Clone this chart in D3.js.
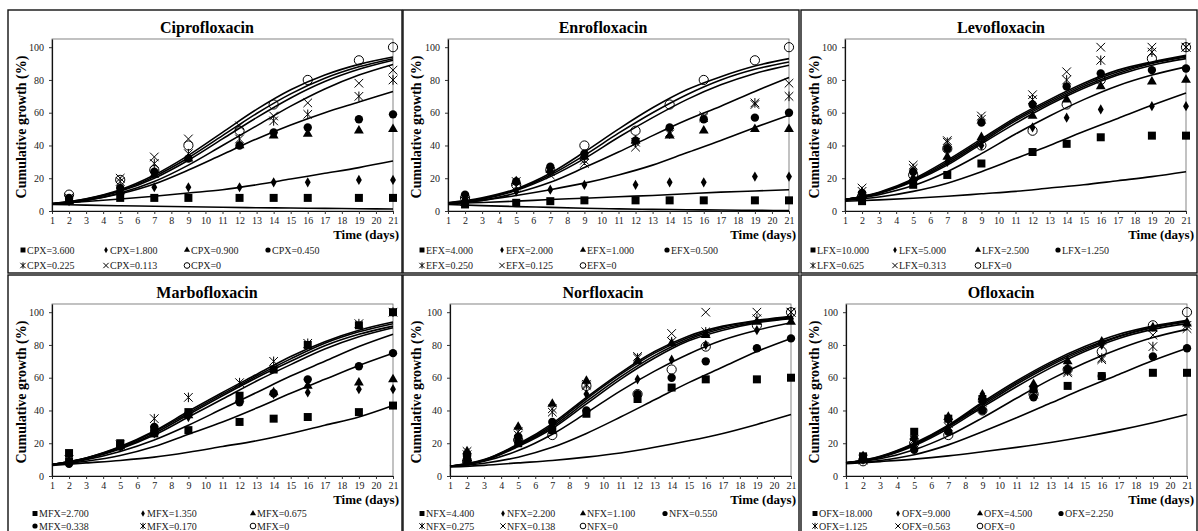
<!DOCTYPE html>
<html>
<head>
<meta charset="utf-8">
<script src="https://cdn.jsdelivr.net/npm/d3@7"></script>
<style>
    body { margin: 0; background: #fff; }
    svg text { font-family: "Liberation Serif", "Times New Roman", serif; }
</style>
</head>
<body>
<div id="main"></div>
<script>
// sampling days of the measured points and of the fitted curves
const days = [2, 5, 7, 9, 12, 14, 16, 19, 21];
const fitDays = [1, 3, 5, 7, 9, 11, 13, 15, 17, 19, 21];
const dayTicks = [1, 2, 3, 4, 5, 6, 7, 8, 9, 10, 11, 12, 13, 14, 15, 16, 17, 18, 19, 20, 21];
const yTicks = [0, 20, 40, 60, 80, 100];

const markerShapes = ["square", "diamond", "triangle", "circle", "asterisk", "cross", "ring"];

// Ciprofloxacin
const cpxConc = ["3.600", "1.800", "0.900", "0.450", "0.225", "0.113", "0"];
const cpxPoints = [
    [6.5, 8, 8, 8, 8, 8, 8, 8, 8],
    [6, 11, 14.5, 14.5, 14.5, 17.5, 17.5, 19, 19],
    [6, 12, 22, 32, 40, 46, 47, 49, 50],
    [8, 14, 24, 32, 40, 48, 51, 56, 59],
    [7, 18, 29, 35, 44, 55, 59, 70, 80],
    [8, 20, 33, 44, 52, 58, 66, 78, 86],
    [10, 19, 25, 40, 49, 65, 80, 92, 100]
];
const cpxFits = [
    [4.5, 7.5, 13, 22, 34, 48, 62, 74, 83, 89.5, 94],
    [4.5, 7.3, 12.5, 21, 32.5, 46, 59.5, 71.5, 81, 88, 93],
    [4.3, 7, 12, 20, 31, 44, 57, 69, 79, 86.5, 92],
    [4.2, 6.5, 11, 18, 28, 40, 52, 64, 74.5, 83, 89.5],
    [4.2, 6.5, 10.5, 16.5, 25, 34.5, 44, 52.5, 60, 66.5, 73],
    [4.5, 5.8, 7.3, 9, 11, 13, 16, 19.5, 23, 26.5, 30.5],
    [4, 3.6, 3.2, 2.9, 2.6, 2.3, 2, 1.8, 1.6, 1.4, 1.2]
];

// Enrofloxacin
const efxConc = ["4.000", "2.000", "1.000", "0.500", "0.250", "0.125", "0"];
const efxPoints = [
    [4, 5, 6, 6.5, 6.5, 6.5, 6.5, 6.5, 6.5],
    [7, 12, 13, 16, 16, 17.5, 17.5, 21, 21],
    [7, 18, 25, 33, 43, 46, 49, 50, 50],
    [10, 18, 27, 35, 43, 51, 56, 57, 60],
    [6, 18, 24, 31, 42, 47, 57, 66, 70],
    [6, 15, 22, 29, 39, 48, 58, 65, 78],
    [8, 16, 25, 40, 49, 65, 80, 92, 100]
];
const efxFits = [
    [5, 8, 13.5, 23, 36, 50, 63, 74, 82, 88.5, 93],
    [5, 7.5, 13, 22, 34, 47.5, 60, 71, 80, 86.5, 91],
    [4.8, 7.2, 12.5, 21, 32, 45, 57, 68, 77, 84, 89],
    [4.5, 6.5, 11, 17.5, 26.5, 36, 46, 55.5, 64, 73, 81.5],
    [4.5, 6.5, 9.5, 13, 17, 22, 28, 35.5, 43, 51, 58.5],
    [4.5, 5.2, 6, 7, 7.8, 8.7, 9.5, 10.5, 11.5, 12.2, 13],
    [4, 3.3, 2.7, 2.2, 1.7, 1.3, 1, 0.8, 0.6, 0.4, 0.3]
];

// Levofloxacin
const lfxConc = ["10.000", "5.000", "2.500", "1.250", "0.625", "0.313", "0"];
const lfxPoints = [
    [6, 16, 22, 29, 36, 41, 45, 46, 46],
    [8, 18, 30, 40, 51, 57, 62, 64, 64],
    [10, 20, 33, 45, 58, 68, 76, 79, 80],
    [11, 24, 38, 54, 65, 76, 84, 86, 87],
    [12, 26, 42, 56, 68, 80, 92, 97, 100],
    [14, 28, 43, 58, 71, 85, 100, 100, 100],
    [9, 22, 38, 40, 49, 65, 80, 93, 100]
];
const lfxFits = [
    [7, 11.5, 19.5, 31, 44, 57, 68, 78, 86, 91, 95],
    [7, 11.2, 19, 30, 43, 56, 67, 77, 85, 90.5, 94.5],
    [7, 11, 18.5, 29, 42, 55, 66, 76, 84, 90, 94],
    [7, 10.8, 18, 28, 41, 53.5, 65, 75, 83, 89, 93],
    [6.8, 10, 15.5, 24, 35, 47, 58, 68, 76.5, 83, 88],
    [6.5, 8.5, 12, 17, 24, 32, 40, 48.5, 56.5, 64.5, 72],
    [6, 6.8, 7.8, 9, 10.5, 12, 14, 16, 18.5, 21, 24]
];

// Marbofloxacin
const mfxConc = ["2.700", "1.350", "0.675", "0.338", "0.170", "0"];
const mfxPoints = [
    [9, 19, 26, 28, 33, 35, 36, 39, 43],
    [9, 18, 26, 36, 46, 50, 51, 53, 53],
    [9, 18, 27, 37, 47, 51, 55, 57, 59],
    [7.5, 18, 30, 38, 45, 50.5, 59, 67, 75],
    [10, 19, 35, 48, 57, 70, 81, 93, 100],
    [14, 20, 28, 39, 49, 65, 80, 92, 100]
];
const mfxFits = [
    [7, 11, 18, 27.5, 39.5, 51, 62, 73, 82, 89, 94],
    [7, 11, 17.5, 27, 38.5, 50, 61, 71.5, 81, 88, 93],
    [7, 10.8, 17, 26, 37.5, 49, 60, 70, 79.5, 86.5, 91.5],
    [7, 10.5, 16.5, 25, 36, 47, 58, 68, 77.5, 85, 90.5],
    [6.8, 10, 15, 22, 31, 41, 51, 61, 70, 79, 86.5],
    [6.8, 9, 12.5, 18, 25.5, 33, 41.5, 50.5, 59, 67.5, 75],
    [6.5, 8, 9.5, 11.5, 14.5, 18, 21.5, 26, 31, 36, 43]
];
// the MFX=0 points are drawn with squares in the plot
const mfxPlotShapes = ["square", "diamond", "triangle", "circle", "asterisk", "square"];
const mfxLegendShapes = ["square", "diamond", "triangle", "circle", "asterisk", "ring"];

// Norfloxacin
const nfxConc = ["4.400", "2.200", "1.100", "0.550", "0.275", "0.138", "0"];
const nfxPoints = [
    [10, 20, 28, 38, 47, 54, 59, 59, 60],
    [11, 22, 30, 50, 59, 71, 80, 89, 96],
    [15, 30, 44, 58, 70, 81, 86, 94, 94],
    [13, 24, 33, 40, 50, 60, 70, 78, 84],
    [13, 27, 39, 56, 72, 82, 88, 96, 100],
    [15, 25, 41, 55, 73, 87, 100, 100, 100],
    [9, 22, 25, 55, 50, 65, 79, 92, 100]
];
const nfxFits = [
    [6, 10, 19.5, 32, 48, 63, 76, 85.5, 91.5, 95, 97.5],
    [6, 9.8, 19, 31, 47, 62, 75, 84.5, 91, 94.5, 97],
    [6, 9.5, 18.5, 30, 45.5, 60.5, 73.5, 83.5, 90, 94, 96.5],
    [6, 9.3, 18, 29, 44, 59, 72, 82.5, 89, 93.5, 96],
    [5.8, 9, 15.5, 25.5, 38.5, 52, 64, 74.5, 83, 89, 93.5],
    [5.8, 7.8, 11.5, 17.5, 26, 36, 46.5, 57, 66.5, 76, 84],
    [5.5, 6.5, 8, 9.5, 11.5, 14, 17.5, 21.5, 26, 31.5, 37.5]
];

// Ofloxacin
const ofxConc = ["18.000", "9.000", "4.500", "2.250", "1.125", "0.563", "0"];
const ofxPoints = [
    [12, 27, 35, 47, 53, 55, 61, 63, 63],
    [12, 22, 34, 50, 55, 66, 80, 91, 94],
    [12, 24, 36, 48, 56, 70, 82, 90, 93],
    [10, 16, 27, 40, 48, 65, 61, 73, 78],
    [10, 20, 30, 45, 52, 64, 72, 79, 92],
    [10, 22, 32, 43, 50, 63, 71, 86, 90],
    [9, 20, 25, 40, 50, 65, 76, 92, 100]
];
const ofxFits = [
    [8, 12, 20, 31, 45, 58, 69.5, 79, 86.5, 91.5, 95],
    [8, 11.8, 19.5, 30.5, 44, 57, 68.5, 78, 85.5, 91, 94.5],
    [8, 11.5, 19, 30, 43, 56, 67.5, 77, 85, 90.5, 94],
    [8, 11.3, 18.5, 29, 42, 54.5, 66, 76, 84, 89.5, 93],
    [8, 10.5, 16, 24.5, 35.5, 47.5, 59, 69, 77.5, 84.5, 89.5],
    [7.8, 9.5, 13, 19, 27, 35.5, 44.5, 53.5, 62, 70.5, 78],
    [7.5, 8.8, 10.3, 12.3, 14.8, 17.5, 20.5, 24, 28, 32.5, 37.5]
];

const ctx = {
    svg_w: 1198,
    svg_h: 531,

    // plot area inside a panel
    plot_l: 44,
    plot_r: 385,
    plot_t: 29,
    plot_b: 201,
    y_max: 105,
};

const panels = [
    { title: "Ciprofloxacin", code: "CPX", conc: cpxConc, points: cpxPoints, fits: cpxFits,
      shapes: markerShapes, legendShapes: markerShapes,
      ox: 8, oy: 10, w: 394, h: 263, dx: 0, cols: [15, 98, 179, 260], rows: [243.5, 259] },
    { title: "Enrofloxacin", code: "EFX", conc: efxConc, points: efxPoints, fits: efxFits,
      shapes: markerShapes, legendShapes: markerShapes,
      ox: 403, oy: 10, w: 396, h: 263, dx: 1, cols: [19, 99, 180, 264], rows: [243.5, 259] },
    { title: "Levofloxacin", code: "LFX", conc: lfxConc, points: lfxPoints, fits: lfxFits,
      shapes: markerShapes, legendShapes: markerShapes,
      ox: 801, oy: 10, w: 396, h: 263, dx: 0, cols: [12, 94, 177, 257], rows: [243.5, 259] },
    { title: "Marbofloxacin", code: "MFX", conc: mfxConc, points: mfxPoints, fits: mfxFits,
      shapes: mfxPlotShapes, legendShapes: mfxLegendShapes,
      ox: 8, oy: 275, w: 394, h: 270, dx: 0, cols: [27, 135, 245], rows: [242, 254.5] },
    { title: "Norfloxacin", code: "NFX", conc: nfxConc, points: nfxPoints, fits: nfxFits,
      shapes: markerShapes, legendShapes: markerShapes,
      ox: 403, oy: 275, w: 396, h: 270, dx: 3, cols: [19, 100, 180, 262], rows: [242, 254.5] },
    { title: "Ofloxacin", code: "OFX", conc: ofxConc, points: ofxPoints, fits: ofxFits,
      shapes: markerShapes, legendShapes: markerShapes,
      ox: 801, oy: 275, w: 396, h: 270, dx: 1, cols: [14, 97, 179, 260], rows: [242, 254.5] },
];


function createViz() {
    let svg = d3.select("#main").append("svg")
        .attr("width", ctx.svg_w)
        .attr("height", ctx.svg_h)
        .style("display", "block");

    panels.forEach(p => drawPanel(svg, p));
}


function drawMarker(g, shape, cx, cy, s) {
    let m;
    if (shape == "square") {
        m = g.append("path").attr("d", d3.symbol(d3.symbolSquare, 64 * s * s)()).attr("fill", "#000");
    } else if (shape == "diamond") {
        m = g.append("path").attr("d", d3.symbol(d3.symbolDiamond, 30 * s * s)()).attr("fill", "#000");
    } else if (shape == "triangle") {
        m = g.append("path").attr("d", d3.symbol(d3.symbolTriangle, 42 * s * s)()).attr("fill", "#000");
    } else if (shape == "circle") {
        m = g.append("path").attr("d", d3.symbol(d3.symbolCircle, 55 * s * s)()).attr("fill", "#000");
    } else if (shape == "ring") {
        m = g.append("circle").attr("r", 4.6 * s)
            .attr("fill", "none").attr("stroke", "#000").attr("stroke-width", 1);
    } else {
        let r = 4.3 * s;
        let d = `M${-r},${-r}L${r},${r}M${r},${-r}L${-r},${r}`;
        if (shape == "asterisk") d += `M0,${-r - 0.5}L0,${r + 0.5}`;
        m = g.append("path").attr("d", d)
            .attr("fill", "none").attr("stroke", "#000").attr("stroke-width", 1);
    }
    m.attr("transform", `translate(${cx},${cy})`);
}


function drawPanel(svg, p) {
    let g = svg.append("g").attr("transform", `translate(${p.ox},${p.oy})`);

    // panel border
    g.append("rect")
        .attr("x", 0).attr("y", 0)
        .attr("width", p.w).attr("height", p.h)
        .attr("fill", "none")
        .attr("stroke", "#111")
        .attr("stroke-width", 1.4);

    let x = d3.scaleLinear().domain([1, 21]).range([ctx.plot_l + p.dx, ctx.plot_r + p.dx]);
    let y = d3.scaleLinear().domain([0, ctx.y_max]).range([ctx.plot_b, ctx.plot_t]);

    // plot area frame
    g.append("rect")
        .attr("x", x(1)).attr("y", ctx.plot_t)
        .attr("width", x(21) - x(1)).attr("height", ctx.plot_b - ctx.plot_t)
        .attr("fill", "none")
        .attr("stroke", "#666")
        .attr("stroke-width", 0.8);

    // axes
    let xAxis = g.append("g")
        .attr("transform", `translate(0,${y(0)})`)
        .call(d3.axisBottom(x).tickValues(dayTicks).tickSize(3).tickSizeOuter(0).tickPadding(3));
    let yAxis = g.append("g")
        .attr("transform", `translate(${x(1)},0)`)
        .call(d3.axisLeft(y).tickValues(yTicks).tickSize(3).tickSizeOuter(0).tickPadding(5));
    [xAxis, yAxis].forEach(a => {
        a.selectAll("text")
            .style("font-size", "10px")
            .style("font-family", "Liberation Serif")
            .attr("fill", "#222");
        a.select(".domain").attr("stroke", "#111").attr("stroke-width", 1.2);
        a.selectAll(".tick line").attr("stroke", "#333");
    });

    // fitted curves
    let line = d3.line()
        .x((d, i) => x(fitDays[i]))
        .y(d => y(d))
        .curve(d3.curveMonotoneX);

    g.append("g").selectAll("path")
        .data(p.fits)
        .enter().append("path")
        .attr("d", line)
        .attr("fill", "none")
        .attr("stroke", "#000")
        .attr("stroke-width", 1.6);

    // measured points
    let pts = g.append("g");
    p.points.forEach((serie, k) => {
        serie.forEach((v, i) => drawMarker(pts, p.shapes[k], x(days[i]), y(v), 1));
    });

    // title
    g.append("text")
        .attr("x", p.w / 2 + 2)
        .attr("y", 23)
        .attr("text-anchor", "middle")
        .style("font-size", "16px")
        .style("font-weight", "bold")
        .text(p.title);

    // axis titles
    g.append("text")
        .attr("transform", `translate(13,${(ctx.plot_t + ctx.plot_b) / 2 + 2}) rotate(-90)`)
        .attr("text-anchor", "middle")
        .attr("dominant-baseline", "central")
        .style("font-size", "14px")
        .style("font-weight", "bold")
        .text("Cumulative growth (%)");

    g.append("text")
        .attr("x", p.w - 3)
        .attr("y", 229)
        .attr("text-anchor", "end")
        .style("font-size", "13px")
        .style("font-weight", "bold")
        .text("Time (days)");

    // legend
    let ncol = p.cols.length;
    let leg = g.append("g");
    p.conc.forEach((c, k) => {
        let col = k % ncol,
            row = Math.floor(k / ncol);
        let ly = p.rows[row];
        let lx = p.cols[col];
        drawMarker(leg, p.legendShapes[k], lx, ly - 3.5, 0.62);
        leg.append("text")
            .attr("x", lx + 4)
            .attr("y", ly)
            .style("font-size", "10px")
            .attr("fill", "#222")
            .text(p.code + "=" + c);
    });
}

createViz();
</script>
</body>
</html>
